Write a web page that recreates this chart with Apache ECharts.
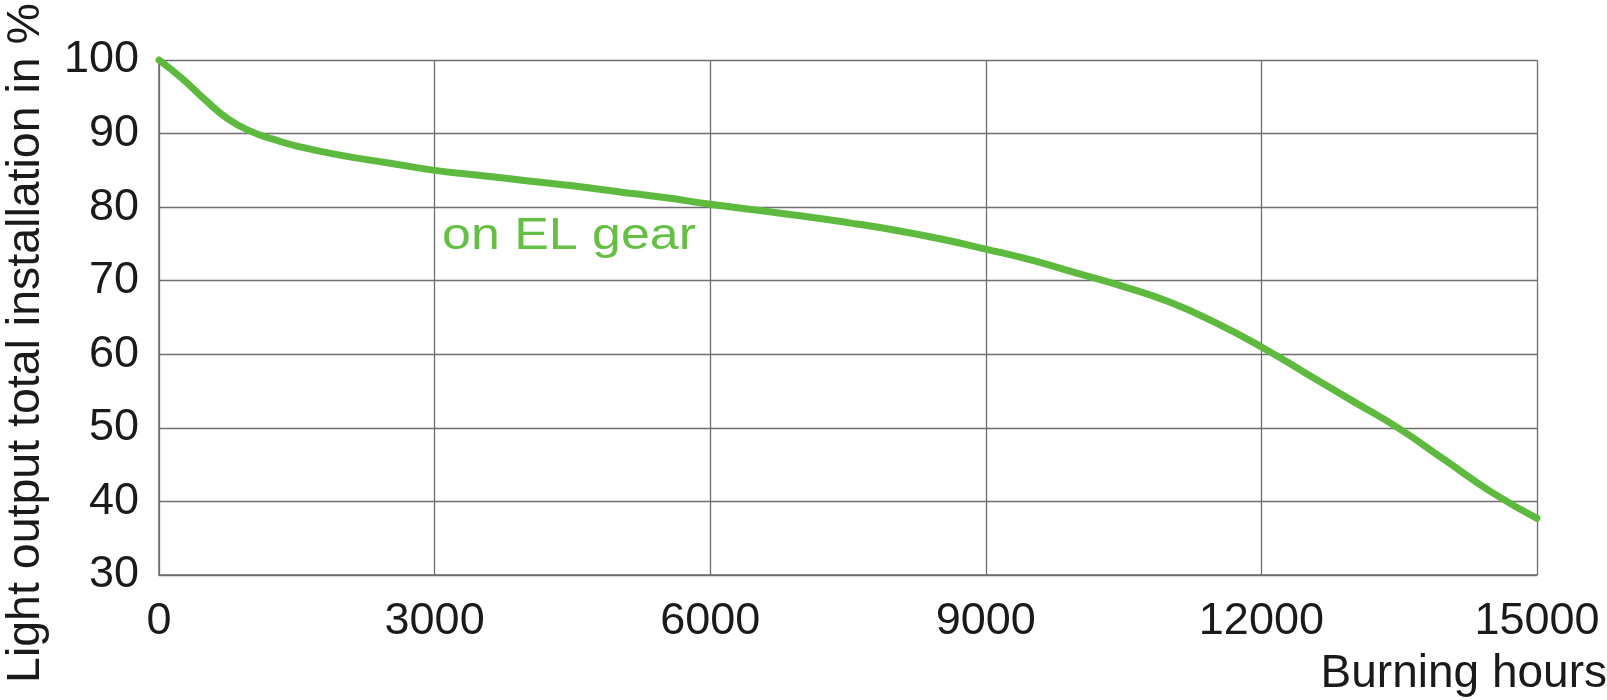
<!DOCTYPE html>
<html>
<head>
<meta charset="utf-8">
<script src="https://cdn.jsdelivr.net/npm/echarts@6/dist/echarts.min.js"></script>
<style>
html,body{margin:0;padding:0;background:#fff;}
#c{width:1607px;height:700px;}
</style>
</head>
<body>
<div id="c"></div>
<script>
// Burning hours (x) and light output in % (y)
const hours = [0, 250, 500, 750, 1000, 1250, 1500, 2000, 2500, 3000, 3500, 4000, 4500, 5000, 5500, 6000, 6500, 7000, 7500, 8000, 8500, 9000, 9500, 10000, 10500, 11000, 11500, 12000, 12500, 13000, 13500, 14000, 14500, 15000];
const lightOutput = [100, 97.5, 94.6, 92.0, 90.3, 89.2, 88.3, 87.0, 86.0, 85.0, 84.3, 83.6, 82.9, 82.1, 81.3, 80.4, 79.6, 78.8, 77.9, 76.9, 75.7, 74.3, 72.8, 71.0, 69.2, 67.1, 64.3, 61.0, 57.3, 53.6, 49.9, 45.6, 41.3, 37.7];
const xTicks = [0, 3000, 6000, 9000, 12000, 15000];
const yTicks = [30, 40, 50, 60, 70, 80, 90, 100];
const seriesName = 'on EL gear';
const xTitle = 'Burning hours';
const yTitle = 'Light output total installation in %';

const FONT = 'Liberation Sans, Arial, sans-serif';
const chart = echarts.init(document.getElementById('c'), null, {renderer: 'canvas'});
chart.setOption({
  animation: false,
  backgroundColor: '#fff',
  grid: {left: 159, right: 70, top: 60, bottom: 125, containLabel: false},
  xAxis: {
    type: 'value', min: xTicks[0], max: xTicks[xTicks.length - 1], interval: 3000,
    axisLine: {show: true, lineStyle: {color: '#6e6e6e', width: 1.5}},
    axisTick: {show: false},
    axisLabel: {fontSize: 45, fontFamily: FONT, color: '#1a1a1a', margin: 24,
      formatter: v => String(v)},
    splitLine: {show: true, lineStyle: {color: '#6e6e6e', width: 1.3}}
  },
  yAxis: {
    type: 'value', min: yTicks[0], max: yTicks[yTicks.length - 1], interval: 10,
    axisLine: {show: true, lineStyle: {color: '#6e6e6e', width: 1.5}},
    axisTick: {show: false},
    axisLabel: {fontSize: 45, fontFamily: FONT, color: '#1a1a1a', margin: 20, padding: [18, 0, 0, 0],
      formatter: v => String(v)},
    splitLine: {show: true, lineStyle: {color: '#6e6e6e', width: 1.3}}
  },
  series: [{
    name: seriesName,
    type: 'line',
    data: hours.map((h, i) => [h, lightOutput[i]]),
    smooth: 0.5,
    showSymbol: false,
    lineStyle: {color: '#5dba3f', width: 7, cap: 'round'},
    clip: false
  }],
  graphic: [
    {type: 'text', x: 442, y: 237, scaleX: 1.18,
      style: {text: seriesName, font: '44px ' + FONT, fill: '#66bf45', align: 'left', verticalAlign: 'middle'}},
    {type: 'text', x: 1607, y: 674,
      style: {text: xTitle, font: '46px ' + FONT, fill: '#1a1a1a', align: 'right', verticalAlign: 'middle'}},
    {type: 'text', x: 26, y: 343, rotation: Math.PI / 2,
      style: {text: yTitle, font: '46.5px ' + FONT, fill: '#1a1a1a', align: 'center', verticalAlign: 'middle'}}
  ]
});
</script>
</body>
</html>
